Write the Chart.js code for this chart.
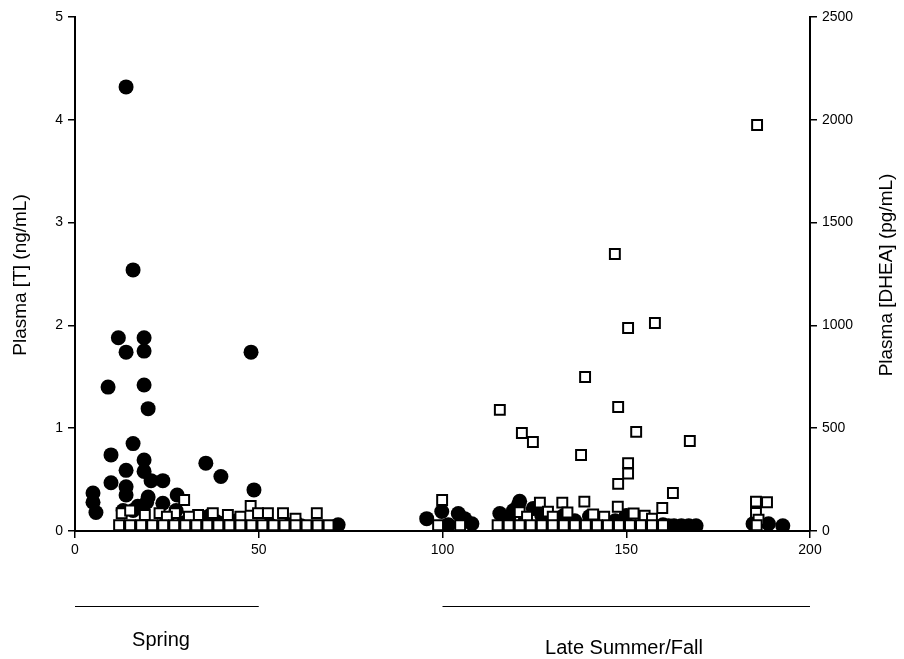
<!DOCTYPE html>
<html>
<head>
<meta charset="utf-8">
<script src="https://cdn.jsdelivr.net/npm/chart.js@4"></script>
<style>
html,body{margin:0;padding:0;background:#fff;}
#wrap{width:904px;height:659px;position:relative;}
</style>
</head>
<body>
<div id="wrap"><canvas id="c" width="904" height="659"></canvas></div>
<script>
// Day of year (x) and plasma testosterone (ng/mL) — filled circles
const tDays = [
  13.9,15.8,11.8,18.8,13.9,18.8,9.0,18.8,19.9,47.9,
  15.8,9.8,35.6,39.7,18.8,13.9,18.8,9.8,20.7,23.9,
  13.9,48.7,4.9,13.9,19.9,27.8,4.9,23.9,5.7,15.8,
  13.1,17.1,19.5,25.0,27.5,29.6,33.0,35.0,36.7,38.5,
  40.8,44.0,53.0,58.5,60.1,61.5,71.6,
  95.7,99.8,104.3,108.0,101.6,106.0,115.6,121.0,120.6,119.3,
  124.7,118.0,122.5,127.0,130.0,133.0,136.0,140.0,143.0,147.0,
  150.0,155.0,160.0,161.5,163.0,165.0,167.0,169.0,184.5,188.7,192.6
];
const tValues = [
  4.32,2.54,1.88,1.88,1.74,1.75,1.40,1.42,1.19,1.74,
  0.85,0.74,0.66,0.53,0.69,0.59,0.58,0.47,0.49,0.49,
  0.43,0.40,0.37,0.35,0.33,0.35,0.28,0.27,0.18,0.20,
  0.20,0.24,0.28,0.12,0.20,0.08,0.06,0.13,0.15,0.09,
  0.08,0.10,0.06,0.06,0.08,0.05,0.06,
  0.12,0.19,0.17,0.07,0.06,0.12,0.17,0.29,0.25,0.20,
  0.22,0.12,0.10,0.15,0.12,0.15,0.10,0.14,0.12,0.10,
  0.15,0.08,0.06,0.05,0.05,0.05,0.05,0.05,0.07,0.07,0.05
];
// Day of year (x) and plasma DHEA (pg/mL) — open squares
const dDays = [
  185.6,146.9,157.8,150.5,138.8,115.6,147.8,152.7,121.6,124.6,
  167.3,137.7,150.5,150.5,147.8,162.7,99.9,29.7,47.8,159.8,
  185.3,188.3,185.3,186.0,126.5,132.6,138.6,147.7,121.0,128.7,
  134.0,141.0,144.0,152.0,155.0,157.0,130.0,123.0,
  12.7,19.0,23.0,27.2,33.5,37.5,41.6,49.8,52.5,56.6,65.8,15.0,25.0,45.0,31.0,60.0,
  12,15,18,21,24,27,30,33,36,39,42,45,48,51,54,57,60,63,66,69,
  98.8,104.8,115,118,121,124,127,130,133,136,139,142,145,148,151,154,157,160,185.5
];
const dValues = [
  1975,1347,1012,987,749,589,603,482,477,433,
  438,370,330,280,229,185,151,151,122,112,
  143,140,88,55,138,138,143,118,92,94,
  90,80,70,85,75,60,70,70,
  86,78,87,87,78,87,78,87,87,87,87,100,70,70,70,60,
  28,28,28,28,28,28,28,28,28,28,28,28,28,28,28,28,28,28,28,28,
  28,28,28,28,28,28,28,28,28,28,28,28,28,28,28,28,28,28,28
];
const xTicks = [0,50,100,150,200];
const tTicks = [0,1,2,3,4,5];
const dTicks = [0,500,1000,1500,2000,2500];
const leftTitle = 'Plasma [T] (ng/mL)';
const rightTitle = 'Plasma [DHEA] (pg/mL)';
const seasons = [
  {label:'Spring', from:0, to:50},
  {label:'Late Summer/Fall', from:100, to:200}
];

const FONT = '"Liberation Sans", Arial, sans-serif';

const decor = {
  id:'decor',
  afterDraw(chart){
    const ctx = chart.ctx;
    const xs = chart.scales.x;
    ctx.save();
    ctx.fillStyle = '#000';
    ctx.strokeStyle = '#000';
    // axis titles
    ctx.font = '19px ' + FONT;
    ctx.textAlign = 'center';
    ctx.textBaseline = 'middle';
    const midY = 275;
    ctx.save();
    ctx.translate(21, midY);
    ctx.rotate(-Math.PI/2);
    ctx.fillText(leftTitle, 0, 0);
    ctx.restore();
    ctx.save();
    ctx.translate(887, midY);
    ctx.rotate(-Math.PI/2);
    ctx.fillText(rightTitle, 0, 0);
    ctx.restore();
    // season bars
    ctx.lineWidth = 1;
    seasons.forEach((s) => {
      const a = xs.getPixelForValue(s.from);
      const b = xs.getPixelForValue(s.to);
      ctx.beginPath();
      ctx.moveTo(a, 606.5);
      ctx.lineTo(b, 606.5);
      ctx.stroke();
    });
    ctx.font = '20px ' + FONT;
    ctx.fillText(seasons[0].label, 161, 640);
    ctx.fillText(seasons[1].label, 624, 648);
    ctx.restore();
  }
};

const tickFmt = v => String(v);

new Chart(document.getElementById('c'), {
  type: 'scatter',
  data: {
    datasets: [
      {
        label: 'DHEA',
        data: dDays.map((d, i) => ({x: d, y: dValues[i]})),
        yAxisID: 'y2',
        pointStyle: 'rect',
        pointRadius: 7,
        pointBorderWidth: 2,
        pointBackgroundColor: '#fff',
        pointBorderColor: '#000'
      },
      {
        label: 'T',
        data: tDays.map((d, i) => ({x: d, y: tValues[i]})),
        yAxisID: 'y',
        pointStyle: 'circle',
        pointRadius: 7.5,
        pointBorderWidth: 0,
        pointBackgroundColor: '#000',
        pointBorderColor: '#000'
      }
    ]
  },
  options: {
    responsive: false,
    animation: false,
    devicePixelRatio: 1,
    layout: {padding: {top: 17, left: 0, right: 0, bottom: 0}},
    plugins: {legend: {display: false}, tooltip: {enabled: false}},
    scales: {
      x: {
        type: 'linear', min: 0, max: 200,
        afterBuildTicks(s){ s.ticks = xTicks.map(v => ({value: v})); },
        afterFit(s){ s.height = 128; },
        grid: {display: true, drawOnChartArea: false, drawTicks: true, tickLength: 7, color: '#000', lineWidth: 1.5},
        border: {display: true, color: '#000', width: 2},
        ticks: {color: '#000', font: {family: FONT, size: 14}, padding: 4, maxRotation: 0, callback: tickFmt}
      },
      y: {
        type: 'linear', position: 'left', min: 0, max: 5,
        afterBuildTicks(s){ s.ticks = tTicks.map(v => ({value: v})); },
        afterFit(s){ s.width = 75; },
        grid: {display: true, drawOnChartArea: false, drawTicks: true, tickLength: 7, color: '#000', lineWidth: 1.5},
        border: {display: true, color: '#000', width: 2},
        ticks: {color: '#000', font: {family: FONT, size: 14}, padding: 5, callback: tickFmt}
      },
      y2: {
        type: 'linear', position: 'right', min: 0, max: 2500,
        afterBuildTicks(s){ s.ticks = dTicks.map(v => ({value: v})); },
        afterFit(s){ s.width = 94; },
        grid: {display: true, drawOnChartArea: false, drawTicks: true, tickLength: 7, color: '#000', lineWidth: 1.5},
        border: {display: true, color: '#000', width: 2},
        ticks: {color: '#000', font: {family: FONT, size: 14}, padding: 5, callback: tickFmt}
      }
    }
  },
  plugins: [decor]
});
</script>
</body>
</html>
